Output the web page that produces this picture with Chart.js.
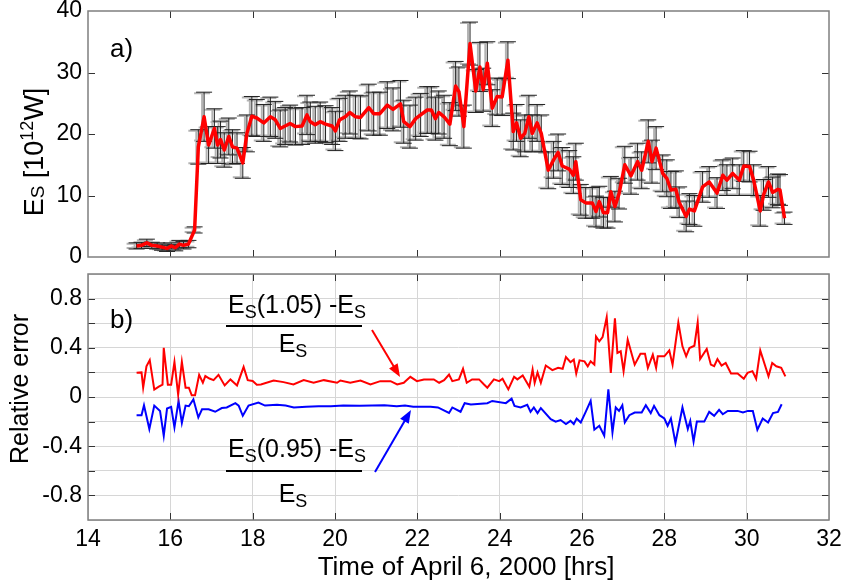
<!DOCTYPE html>
<html>
<head>
<meta charset="utf-8">
<script src="https://cdn.jsdelivr.net/npm/chart.js@4.4.0/dist/chart.umd.min.js"></script>
<style>
  html, body { margin: 0; padding: 0; background: #fff; }
  #wrap { position: relative; width: 847px; height: 586px; }
  canvas { position: absolute; left: 0; }
  #top { top: 0; }
  #bot { top: 262px; }
</style>
</head>
<body>
<div id="wrap">
  <canvas id="top" width="847" height="268"></canvas>
  <canvas id="bot" width="847" height="324"></canvas>
</div>
<script>
// ---------------- data: panel a) ----------------
const esTime = [15.18, 15.30, 15.43, 15.55, 15.68, 15.80, 15.92, 16.02, 16.12, 16.22, 16.32, 16.44,
  16.59, 16.68, 16.82, 16.93, 17.07, 17.15, 17.22, 17.31, 17.42, 17.51, 17.62, 17.76, 17.86, 17.98,
  18.10, 18.27, 18.43, 18.55, 18.67, 18.79, 18.91, 19.04, 19.20, 19.32, 19.40, 19.52, 19.64, 19.77,
  19.93, 20.01, 20.11, 20.25, 20.36, 20.50, 20.62, 20.82, 20.94, 21.09, 21.27, 21.41, 21.59, 21.67,
  21.82, 21.96, 22.08, 22.24, 22.34, 22.44, 22.52, 22.65, 22.79, 22.93, 23.01, 23.13, 23.28, 23.42,
  23.52, 23.60, 23.70, 23.82, 23.94, 24.06, 24.20, 24.33, 24.41, 24.51, 24.61, 24.71, 24.79, 24.91,
  25.01, 25.18, 25.31, 25.42, 25.52, 25.69, 25.79, 25.85, 25.97, 26.09, 26.25, 26.34, 26.42, 26.52,
  26.62, 26.70, 26.80, 26.90, 27.04, 27.19, 27.35, 27.45, 27.61, 27.70, 27.80, 27.96, 28.06, 28.16,
  28.28, 28.36, 28.53, 28.61, 28.73, 28.93, 29.09, 29.28, 29.42, 29.52, 29.66, 29.82, 29.93, 30.07,
  30.17, 30.33, 30.41, 30.53, 30.63, 30.76, 30.81, 30.92];
const esValue = [1.8, 1.9, 2.3, 1.9, 1.8, 1.6, 1.4, 1.8, 1.5, 2.1, 1.9, 2.1,
  4.4, 17.9, 22.8, 18.2, 20.9, 18.2, 19.1, 17.4, 19.6, 17.9, 17.7, 15.3, 20.1, 22.9,
  22.6, 21.8, 22.8, 22.3, 20.9, 21.3, 21.7, 21.2, 21.3, 23.1, 22.0, 21.5, 22.0, 21.6,
  21.3, 20.5, 22.3, 22.8, 23.5, 22.8, 22.7, 24.3, 23.3, 23.3, 24.7, 24.0, 24.9, 22.0,
  21.2, 22.5, 23.1, 23.9, 23.9, 22.5, 23.5, 22.8, 21.6, 27.8, 26.9, 21.2, 34.7, 27.0,
  30.9, 27.2, 31.5, 24.2, 26.1, 26.0, 32.0, 20.4, 21.8, 19.3, 20.1, 22.8, 20.1, 21.8,
  20.1, 14.1, 15.8, 17.0, 14.8, 14.3, 13.3, 15.5, 9.3, 8.8, 8.8, 7.4, 9.0, 7.2,
  7.2, 10.6, 8.2, 10.3, 15.0, 13.2, 15.5, 14.1, 18.8, 15.5, 17.7, 13.6, 12.8, 10.9,
  11.0, 8.9, 6.6, 7.8, 7.5, 11.4, 12.2, 10.4, 13.3, 12.5, 13.6, 12.5, 14.8, 14.7,
  12.5, 7.5, 10.1, 12.2, 10.5, 11.0, 10.9, 6.3];
const esError = [0.5, 0.5, 0.6, 0.5, 0.5, 0.5, 0.5, 0.5, 0.5, 0.6, 0.6, 0.6,
  0.5, 2.8, 4.0, 3.0, 3.2, 3.0, 3.0, 2.8, 3.0, 2.8, 2.5, 2.5, 3.0, 3.2,
  3.0, 3.0, 3.2, 3.0, 3.0, 3.0, 3.0, 3.0, 3.0, 3.2, 3.2, 3.0, 3.2, 3.0,
  3.0, 3.2, 3.5, 3.5, 3.5, 3.5, 3.5, 3.8, 3.5, 3.5, 3.8, 3.5, 3.8, 3.5,
  3.5, 3.5, 3.5, 3.8, 3.8, 3.5, 3.5, 3.5, 3.5, 4.0, 4.0, 3.5, 3.5, 3.5,
  4.0, 3.5, 3.5, 3.0, 3.0, 3.0, 3.0, 3.0, 3.0, 3.0, 3.0, 3.5, 3.0, 3.0,
  3.0, 3.0, 3.0, 3.0, 3.0, 3.0, 3.0, 3.0, 2.5, 2.5, 2.5, 2.5, 2.5, 2.5,
  2.5, 2.5, 2.5, 2.5, 3.0, 3.0, 3.0, 3.0, 3.5, 3.5, 3.5, 3.0, 3.0, 3.0,
  3.0, 2.5, 2.5, 2.5, 2.5, 2.5, 2.5, 2.5, 2.5, 2.5, 2.5, 2.5, 2.5, 2.5,
  2.5, 2.5, 2.5, 2.5, 2.5, 2.5, 2.5, 1.0];

// ---------------- data: panel b) ----------------
const relHiTime = [15.18, 15.30, 15.34, 15.42, 15.50, 15.61, 15.72, 15.81, 15.84, 15.94, 16.02, 16.10,
  16.19, 16.28, 16.37, 16.45, 16.52, 16.60, 16.70, 16.79, 16.85, 16.95, 17.05, 17.17, 17.32, 17.46,
  17.62, 17.78, 17.88, 18.00, 18.10, 18.20, 18.51, 18.75, 18.99, 19.24, 19.48, 19.73, 20.05, 20.13,
  20.37, 20.62, 20.86, 21.10, 21.35, 21.51, 21.67, 21.83, 21.99, 22.16, 22.40, 22.53, 22.65, 22.77,
  22.85, 23.01, 23.11, 23.20, 23.33, 23.50, 23.62, 23.70, 23.86, 23.99, 24.07, 24.21, 24.35, 24.43,
  24.56, 24.72, 24.80, 24.85, 24.92, 25.00, 25.12, 25.28, 25.42, 25.53, 25.61, 25.72, 25.80, 25.86,
  25.94, 26.06, 26.14, 26.21, 26.30, 26.34, 26.42, 26.50, 26.60, 26.70, 26.80, 26.86, 26.94, 27.01,
  27.11, 27.28, 27.42, 27.53, 27.60, 27.72, 27.80, 27.84, 28.00, 28.12, 28.20, 28.34, 28.44, 28.53,
  28.61, 28.73, 28.81, 28.87, 29.03, 29.13, 29.21, 29.29, 29.39, 29.49, 29.62, 29.78, 29.93, 30.02,
  30.14, 30.23, 30.33, 30.53, 30.62, 30.72, 30.84, 30.94];
const relHi = [0.197, 0.20, 0.076, 0.25, 0.30, 0.06, 0.084, 0.10, 0.40, 0.10, 0.10, 0.285,
  0.02, 0.285, 0.076, 0.076, 0.014, 0.014, 0.18, 0.116, 0.17, 0.15, 0.137, 0.18, 0.094, 0.143,
  0.094, 0.245, 0.137, 0.13, 0.10, 0.102, 0.134, 0.121, 0.102, 0.137, 0.116, 0.137, 0.116, 0.134,
  0.116, 0.134, 0.102, 0.129, 0.129, 0.102, 0.116, 0.164, 0.129, 0.143, 0.143, 0.116, 0.137, 0.183,
  0.129, 0.143, 0.229, 0.116, 0.143, 0.143, 0.102, 0.076, 0.143, 0.129, 0.148, 0.062, 0.164, 0.143,
  0.175, 0.084, 0.223, 0.116, 0.20, 0.116, 0.256, 0.218, 0.237, 0.229, 0.325, 0.283, 0.304, 0.191,
  0.298, 0.29, 0.25, 0.29, 0.263, 0.492, 0.452, 0.487, 0.648, 0.196, 0.64, 0.358, 0.371, 0.21,
  0.465, 0.263, 0.352, 0.352, 0.237, 0.344, 0.237, 0.331, 0.331, 0.379, 0.263, 0.605, 0.412, 0.331,
  0.398, 0.417, 0.605, 0.309, 0.39, 0.263, 0.25, 0.309, 0.256, 0.277, 0.191, 0.191, 0.148, 0.196,
  0.21, 0.148, 0.379, 0.168, 0.277, 0.25, 0.237, 0.168];

const relLoTime = [15.18, 15.30, 15.36, 15.49, 15.61, 15.75, 15.84, 15.92, 16.02, 16.10, 16.20, 16.28,
  16.37, 16.45, 16.56, 16.68, 16.77, 16.93, 17.09, 17.25, 17.37, 17.58, 17.66, 17.76, 17.90, 18.14,
  18.30, 18.59, 18.80, 19.00, 19.30, 19.60, 19.90, 20.20, 20.60, 20.90, 21.20, 21.50, 21.70, 21.90,
  22.32, 22.50, 22.77, 22.85, 23.05, 23.15, 23.30, 23.70, 23.82, 24.15, 24.29, 24.36, 24.51, 24.67,
  24.75, 24.83, 24.92, 25.00, 25.24, 25.36, 25.48, 25.61, 25.72, 25.80, 25.87, 25.97, 26.09, 26.21,
  26.30, 26.42, 26.54, 26.64, 26.74, 26.82, 26.90, 26.98, 27.04, 27.15, 27.28, 27.45, 27.55, 27.67,
  27.75, 27.88, 28.00, 28.08, 28.16, 28.27, 28.44, 28.57, 28.63, 28.71, 28.79, 28.97, 29.09, 29.21,
  29.33, 29.42, 29.54, 29.78, 29.91, 30.03, 30.15, 30.26, 30.39, 30.52, 30.64, 30.76, 30.85];
const relLo = [-0.148, -0.148, -0.067, -0.26, -0.07, -0.113, -0.315, -0.094, -0.08, -0.247, -0.032, -0.21,
  -0.07, -0.075, -0.019, -0.166, -0.10, -0.10, -0.12, -0.09, -0.085, -0.05, -0.07, -0.153, -0.07, -0.045,
  -0.07, -0.064, -0.07, -0.085, -0.08, -0.075, -0.075, -0.07, -0.072, -0.07, -0.068, -0.075, -0.07, -0.08,
  -0.08, -0.085, -0.13, -0.085, -0.12, -0.05, -0.06, -0.05, -0.032, -0.05, -0.013, -0.072, -0.085, -0.064,
  -0.121, -0.085, -0.131, -0.09, -0.18, -0.20, -0.187, -0.22, -0.194, -0.22, -0.175, -0.207, -0.121, -0.032,
  -0.266, -0.234, -0.314, 0.062, -0.288, -0.085, -0.113, -0.067, -0.207, -0.148, -0.126, -0.126, -0.067, -0.131,
  -0.072, -0.148, -0.175, -0.234, -0.175, -0.373, -0.085, -0.26, -0.194, -0.362, -0.20, -0.20, -0.121, -0.153,
  -0.105, -0.14, -0.113, -0.113, -0.126, -0.113, -0.113, -0.266, -0.175, -0.207, -0.131, -0.121, -0.059];

const yLabelsB = ["-0.8", "-0.4", "0", "0.4", "0.8"];

// ---------------- helpers ----------------
const FONT = "'Liberation Sans', Arial, sans-serif";
Chart.defaults.font.family = FONT;
Chart.defaults.color = "#000";

// draws a list of text runs (for sub/superscripts), centred on cx
function drawRuns(ctx, runs, cx, baseline) {
  let w = 0;
  runs.forEach(r => { ctx.font = `${r.size}px ${FONT}`; r.w = ctx.measureText(r.t).width; w += r.w; });
  let x = cx - w / 2;
  ctx.textAlign = "left";
  ctx.textBaseline = "alphabetic";
  runs.forEach(r => {
    ctx.font = `${r.size}px ${FONT}`;
    ctx.fillText(r.t, x, baseline + (r.dy || 0));
    x += r.w;
  });
}

function arrow(ctx, x0, y0, x1, y1, color) {
  const a = Math.atan2(y1 - y0, x1 - x0), L = 13, W = 5;
  ctx.save();
  ctx.strokeStyle = color; ctx.fillStyle = color; ctx.lineWidth = 2;
  ctx.beginPath(); ctx.moveTo(x0, y0);
  ctx.lineTo(x1 - L * 0.8 * Math.cos(a), y1 - L * 0.8 * Math.sin(a)); ctx.stroke();
  ctx.beginPath(); ctx.moveTo(x1, y1);
  ctx.lineTo(x1 - L * Math.cos(a) + W * Math.sin(a), y1 - L * Math.sin(a) - W * Math.cos(a));
  ctx.lineTo(x1 - L * Math.cos(a) - W * Math.sin(a), y1 - L * Math.sin(a) + W * Math.cos(a));
  ctx.closePath(); ctx.fill();
  ctx.restore();
}

// fixed axis boxes so the plot areas land where the original has them
const fixY = s => { s.width = 88; s.paddingTop = 0; s.paddingBottom = 0; };
const fixX = h => s => { s.height = h; s.paddingLeft = 0; s.paddingRight = 0; };

// box + inward tick marks, like the original plot
const frame = {
  id: "frame",
  afterDatasetsDraw(chart) {
    const { ctx, chartArea: a, scales: { x, y } } = chart;
    ctx.save();
    ctx.strokeStyle = "#333"; ctx.lineWidth = 1;
    ctx.beginPath();
    x.ticks.forEach(t => {
      if (t.value <= x.min || t.value >= x.max) return;
      const px = Math.round(x.getPixelForValue(t.value)) + 0.5;
      ctx.moveTo(px, a.bottom); ctx.lineTo(px, a.bottom - 7);
      ctx.moveTo(px, a.top); ctx.lineTo(px, a.top + 7);
    });
    y.ticks.forEach(t => {
      if (t.value <= y.min + 1e-9 || t.value >= y.max - 1e-9) return;
      const py = Math.round(y.getPixelForValue(t.value)) + 0.5;
      ctx.moveTo(a.left, py); ctx.lineTo(a.left + 7, py);
      ctx.moveTo(a.right, py); ctx.lineTo(a.right - 7, py);
    });
    ctx.stroke();
    ctx.strokeStyle = "#7f7f7f"; ctx.lineWidth = 1.5;
    ctx.strokeRect(a.left, a.top, a.right - a.left, a.bottom - a.top);
    ctx.restore();
  }
};

// error bars drawn from esValue / esError through the scales
const errorBars = {
  id: "errorBars",
  beforeDatasetsDraw(chart) {
    const { ctx, scales: { x, y } } = chart;
    ctx.save();
    const pass = (color, lw, dx, dy) => {
      ctx.strokeStyle = color; ctx.lineWidth = lw;
      ctx.beginPath();
      esTime.forEach((t, i) => {
        const px = x.getPixelForValue(t) + dx;
        const hi = y.getPixelForValue(esValue[i] + esError[i]) + dy;
        const lo = y.getPixelForValue(esValue[i] - esError[i]) - dy;
        ctx.moveTo(px, hi); ctx.lineTo(px, lo);
        ctx.moveTo(px - 8, hi); ctx.lineTo(px + 8, hi);
        ctx.moveTo(px - 8, lo); ctx.lineTo(px + 8, lo);
      });
      ctx.stroke();
    };
    pass("rgba(160,160,160,0.8)", 2, -2, 1);
    pass("#222", 1, 0, 0);
    ctx.restore();
  }
};

const labelsTop = {
  id: "labelsTop",
  afterDraw(chart) {
    const ctx = chart.ctx;
    ctx.save();
    ctx.fillStyle = "#000";
    ctx.font = `26px ${FONT}`;
    ctx.textAlign = "left"; ctx.textBaseline = "alphabetic";
    ctx.fillText("a)", 110, 57);
    ctx.translate(43, 152);
    ctx.rotate(-Math.PI / 2);
    drawRuns(ctx, [
      { t: "E", size: 27 }, { t: "S", size: 19, dy: 1 }, { t: " [10", size: 27 },
      { t: "12", size: 18, dy: -10 }, { t: "W]", size: 27 }
    ], 0, 0);
    ctx.restore();
  }
};

const labelsBot = {
  id: "labelsBot",
  afterDraw(chart) {
    const ctx = chart.ctx;
    ctx.save();
    ctx.fillStyle = "#000";
    ctx.font = `26px ${FONT}`;
    ctx.textAlign = "left"; ctx.textBaseline = "alphabetic";
    ctx.fillText("b)", 110, 66);

    const num = v => [{ t: "E", size: 25 }, { t: "S", size: 18, dy: 5 }, { t: `(${v}) -E`, size: 25 }, { t: "S", size: 18, dy: 5 }];
    const den = [{ t: "E", size: 25 }, { t: "S", size: 18, dy: 5 }];
    drawRuns(ctx, num("1.05"), 297, 51);
    drawRuns(ctx, den, 293, 90);
    drawRuns(ctx, num("0.95"), 297, 195);
    drawRuns(ctx, den, 293, 240);
    ctx.strokeStyle = "#000"; ctx.lineWidth = 2;
    ctx.beginPath();
    ctx.moveTo(226, 64); ctx.lineTo(362, 64);
    ctx.moveTo(226, 209); ctx.lineTo(362, 209);
    ctx.stroke();

    arrow(ctx, 372, 68, 400, 115, "#ff0000");
    arrow(ctx, 375, 210, 411, 148, "#0000ff");

    ctx.fillStyle = "#000";
    ctx.font = `26px ${FONT}`;
    ctx.textAlign = "center";
    ctx.fillText("Time of April 6, 2000 [hrs]", 466, 313);
    ctx.translate(28, 127);
    ctx.rotate(-Math.PI / 2);
    ctx.font = `25px ${FONT}`;
    ctx.fillText("Relative error", 0, 0);
    ctx.restore();
  }
};

// ---------------- panel a) ----------------
new Chart(document.getElementById("top"), {
  type: "line",
  data: {
    datasets: [{
      data: esTime.map((t, i) => ({ x: t, y: esValue[i] })),
      borderColor: "#ff0000",
      borderWidth: 3.5,
      borderJoinStyle: "round",
      pointRadius: 0,
      tension: 0
    }]
  },
  options: {
    responsive: false,
    animation: false,
    layout: { padding: { left: 0, top: 11, right: 18, bottom: 0 } },
    plugins: { legend: { display: false }, tooltip: { enabled: false } },
    scales: {
      x: {
        type: "linear", min: 14, max: 32,
        ticks: { display: false, stepSize: 2 },
        grid: { display: false, drawTicks: false },
        border: { display: false },
        afterFit: fixX(11)
      },
      y: {
        min: 0, max: 40,
        ticks: { stepSize: 10, padding: 6, font: { size: 23 } },
        grid: { display: false, drawTicks: false },
        border: { display: false },
        afterFit: fixY
      }
    }
  },
  plugins: [errorBars, frame, labelsTop]
});

// ---------------- panel b) ----------------
new Chart(document.getElementById("bot"), {
  type: "line",
  data: {
    datasets: [{
      data: relHiTime.map((t, i) => ({ x: t, y: relHi[i] })),
      borderColor: "#ff0000",
      borderWidth: 2,
      pointRadius: 0,
      tension: 0
    }, {
      data: relLoTime.map((t, i) => ({ x: t, y: relLo[i] })),
      borderColor: "#0000ff",
      borderWidth: 2,
      pointRadius: 0,
      tension: 0
    }]
  },
  options: {
    responsive: false,
    animation: false,
    layout: { padding: { left: 0, top: 12, right: 18, bottom: 0 } },
    plugins: { legend: { display: false }, tooltip: { enabled: false } },
    scales: {
      x: {
        type: "linear", min: 14, max: 32,
        ticks: { stepSize: 2, padding: 6, autoSkip: false, maxRotation: 0, font: { size: 23 } },
        grid: { color: "#d6d6d6", drawTicks: false },
        border: { display: false },
        afterFit: fixX(66)
      },
      y: {
        min: -1, max: 1,
        ticks: {
          stepSize: 0.2, padding: 6, autoSkip: false, font: { size: 23 },
          callback: v => {
            const s = String(Math.round(v * 10) / 10);
            return yLabelsB.includes(s) ? s : "";
          }
        },
        grid: { color: "#d6d6d6", drawTicks: false },
        border: { display: false },
        afterFit: fixY
      }
    }
  },
  plugins: [frame, labelsBot]
});
</script>
</body>
</html>
